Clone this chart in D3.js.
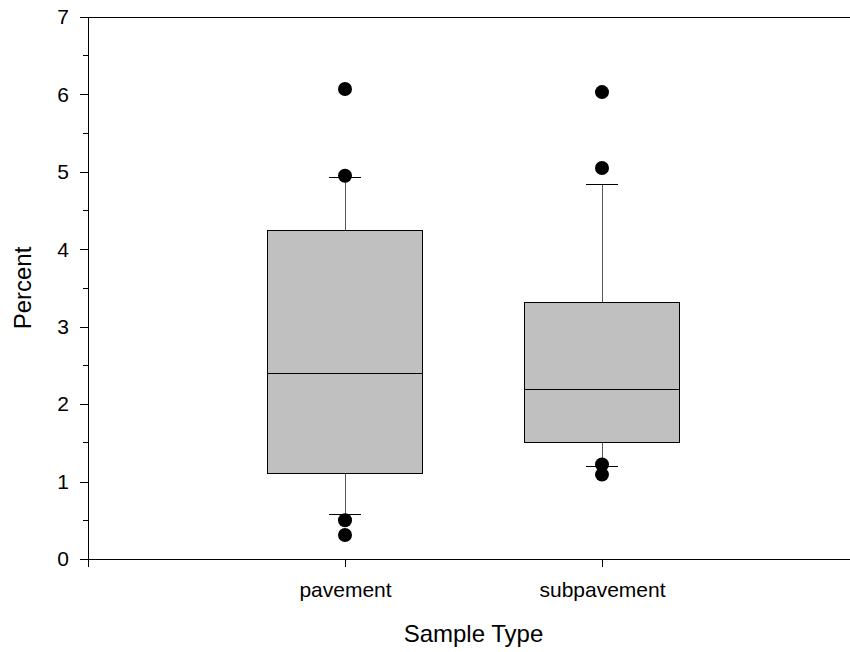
<!DOCTYPE html>
<html>
<head>
<meta charset="utf-8">
<script src="https://cdn.jsdelivr.net/npm/d3@7"></script>
<style>
  body { margin: 0; background: #fff; }
  text { font-family: "Liberation Sans", Arial, sans-serif; }
</style>
</head>
<body>
<svg id="chart"></svg>
<script>
// box summary per category
const categories = ["pavement", "subpavement"];
const q1 = [1.10, 1.51];
const median = [2.39, 2.19];
const q3 = [4.24, 3.31];
const whiskerLow = [0.58, 1.20];
const whiskerHigh = [4.93, 4.84];
const outliers = [
    [6.07, 4.95, 0.50, 0.31],
    [6.03, 5.05, 1.22, 1.09]
];
const yTicks = [0, 1, 2, 3, 4, 5, 6, 7];

const W = 850, H = 652;
const plotLeft = 88, plotTop = 17, plotBottom = 559;

const svg = d3.select("#chart")
    .attr("width", W)
    .attr("height", H);

// x runs 0..3 with categories at 1 and 2; right end falls off the page
const x = d3.scaleLinear().domain([0, 3]).range([plotLeft, plotLeft + 771]);
const y = d3.scaleLinear().domain([0, 7]).range([plotBottom, plotTop]);

const g = svg.append("g").attr("shape-rendering", "crispEdges");

// frame lines: top and bottom, extending past the right edge
g.append("line").attr("x1", plotLeft - 8).attr("x2", W).attr("y1", y(7)).attr("y2", y(7)).attr("stroke", "#000");
g.append("line").attr("x1", plotLeft - 8).attr("x2", W).attr("y1", y(0)).attr("y2", y(0)).attr("stroke", "#000");

// y axis
const yAxis = d3.axisLeft(y)
    .tickValues(yTicks)
    .tickSize(8)
    .tickPadding(11)
    .tickFormat(d3.format("d"));
const ya = svg.append("g")
    .attr("transform", `translate(${plotLeft},0)`)
    .call(yAxis);
ya.select(".domain").attr("d", `M0,${y(7)}V${y(0) + 8}`).attr("stroke", "#000");
ya.selectAll(".tick line").attr("stroke", "#000");
ya.selectAll(".tick text").attr("font-size", 21).attr("fill", "#000")
    .attr("font-family", "Liberation Sans, Arial, sans-serif");

// minor ticks at halves
const minor = d3.range(0.5, 7, 1);
ya.selectAll(".minor").data(minor).join("line")
    .attr("class", "minor")
    .attr("x1", -5).attr("x2", 0)
    .attr("y1", d => y(d)).attr("y2", d => y(d))
    .attr("stroke", "#000");
ya.attr("shape-rendering", "crispEdges");

// x axis ticks under the bottom line
const xa = svg.append("g")
    .attr("transform", `translate(0,${y(0)})`)
    .call(d3.axisBottom(x)
        .tickValues([0, 1, 2, 3])
        .tickSize(8)
        .tickPadding(15)
        .tickFormat(d => (d >= 1 && d <= 2) ? categories[d - 1] : ""));
xa.select(".domain").remove();
xa.selectAll(".tick line").attr("stroke", "#000");
xa.selectAll(".tick text").attr("font-size", 21).attr("fill", "#000")
    .attr("font-family", "Liberation Sans, Arial, sans-serif");
xa.attr("shape-rendering", "crispEdges");

// boxes
const boxW = 155, capW = 32;
const boxes = svg.append("g");
categories.forEach((c, i) => {
    const cx = x(i + 1);
    const bg = boxes.append("g");
    // whiskers
    bg.append("line").attr("x1", cx).attr("x2", cx)
        .attr("y1", y(q3[i])).attr("y2", y(whiskerHigh[i]))
        .attr("stroke", "#555").attr("shape-rendering", "crispEdges");
    bg.append("line").attr("x1", cx).attr("x2", cx)
        .attr("y1", y(q1[i])).attr("y2", y(whiskerLow[i]))
        .attr("stroke", "#555").attr("shape-rendering", "crispEdges");
    // caps
    [whiskerHigh[i], whiskerLow[i]].forEach(v => {
        bg.append("line").attr("x1", cx - capW / 2).attr("x2", cx + capW / 2)
            .attr("y1", y(v)).attr("y2", y(v))
            .attr("stroke", "#000").attr("shape-rendering", "crispEdges");
    });
    // box
    bg.append("rect")
        .attr("x", cx - boxW / 2).attr("width", boxW)
        .attr("y", y(q3[i])).attr("height", y(q1[i]) - y(q3[i]))
        .attr("fill", "#c0c0c0").attr("stroke", "#000")
        .attr("shape-rendering", "crispEdges");
    bg.append("line").attr("x1", cx - boxW / 2).attr("x2", cx + boxW / 2)
        .attr("y1", y(median[i])).attr("y2", y(median[i]))
        .attr("stroke", "#000").attr("shape-rendering", "crispEdges");
    // outliers
    bg.selectAll("circle").data(outliers[i]).join("circle")
        .attr("cx", cx).attr("cy", d => y(d)).attr("r", 7)
        .attr("fill", "#000");
});

// axis titles
svg.append("text")
    .attr("transform", `translate(31,${(y(0) + y(7)) / 2}) rotate(-90)`)
    .attr("text-anchor", "middle")
    .attr("font-size", 24)
    .text("Percent");
svg.append("text")
    .attr("x", x(1.5)).attr("y", 642)
    .attr("text-anchor", "middle")
    .attr("font-size", 24)
    .text("Sample Type");
</script>
</body>
</html>
